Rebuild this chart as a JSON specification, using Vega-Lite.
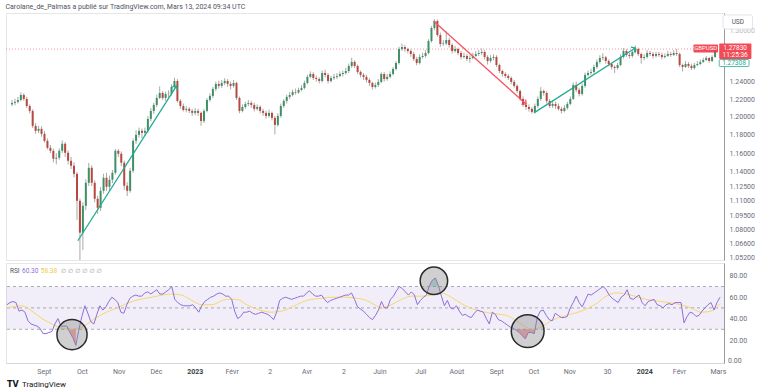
{
"$schema":"https://vega.github.io/schema/vega-lite/v6.json",
"background":"white",
"padding":{"left":4,"top":2,"right":0,"bottom":0},
"title":{"text":"Carolane_de_Palmas a publié sur TradingView.com, Mars 13, 2024 09:34 UTC","anchor":"start","fontSize":7,"font":"Roboto","fontWeight":"normal","color":"#50535E","offset":3,"dx":1},
"spacing":0,
"config":{"view":{"stroke":"#E6E6E6"},"axis":{"labelFont":"Roboto","labelFontSize":7,"labelColor":"#6A6D78","ticks":false,"grid":false,"title":null}},
"datasets":{
"px":[
{"i":0,"o":1.214,"h":1.219,"l":1.212,"c":1.2156,"r":53},
{"i":1,"o":1.2156,"h":1.2205,"l":1.213,"c":1.2168,"r":55},
{"i":2,"o":1.2168,"h":1.2225,"l":1.215,"c":1.219,"r":56},
{"i":3,"o":1.219,"h":1.2276,"l":1.2175,"c":1.2247,"r":55},
{"i":4,"o":1.2247,"h":1.2268,"l":1.218,"c":1.2202,"r":47},
{"i":5,"o":1.2202,"h":1.2225,"l":1.21,"c":1.2122,"r":48},
{"i":6,"o":1.2122,"h":1.214,"l":1.204,"c":1.2066,"r":46},
{"i":7,"o":1.2066,"h":1.2085,"l":1.1875,"c":1.1899,"r":38},
{"i":8,"o":1.1899,"h":1.193,"l":1.181,"c":1.1844,"r":35},
{"i":9,"o":1.1844,"h":1.19,"l":1.182,"c":1.1866,"r":34},
{"i":10,"o":1.1866,"h":1.1895,"l":1.178,"c":1.1811,"r":33},
{"i":11,"o":1.1811,"h":1.184,"l":1.1717,"c":1.1734,"r":31},
{"i":12,"o":1.1734,"h":1.176,"l":1.164,"c":1.1658,"r":26},
{"i":13,"o":1.1658,"h":1.169,"l":1.16,"c":1.1626,"r":26},
{"i":14,"o":1.1626,"h":1.165,"l":1.15,"c":1.154,"r":27},
{"i":15,"o":1.154,"h":1.16,"l":1.148,"c":1.1551,"r":28},
{"i":16,"o":1.1551,"h":1.165,"l":1.153,"c":1.1626,"r":35},
{"i":17,"o":1.1626,"h":1.1738,"l":1.16,"c":1.1702,"r":40},
{"i":18,"o":1.1702,"h":1.172,"l":1.156,"c":1.1604,"r":33},
{"i":19,"o":1.1604,"h":1.163,"l":1.148,"c":1.1518,"r":33},
{"i":20,"o":1.1518,"h":1.156,"l":1.143,"c":1.1465,"r":33},
{"i":21,"o":1.1465,"h":1.15,"l":1.134,"c":1.1379,"r":27},
{"i":22,"o":1.1379,"h":1.14,"l":1.09,"c":1.1096,"r":22},
{"i":23,"o":1.1096,"h":1.112,"l":1.035,"c":1.0771,"r":15},
{"i":24,"o":1.0771,"h":1.108,"l":1.06,"c":1.1044,"r":30},
{"i":25,"o":1.1044,"h":1.132,"l":1.1,"c":1.1284,"r":42},
{"i":26,"o":1.1284,"h":1.1495,"l":1.125,"c":1.1443,"r":52},
{"i":27,"o":1.1443,"h":1.147,"l":1.125,"c":1.1284,"r":45},
{"i":28,"o":1.1284,"h":1.131,"l":1.108,"c":1.1117,"r":37},
{"i":29,"o":1.1117,"h":1.115,"l":1.096,"c":1.1024,"r":35},
{"i":30,"o":1.1024,"h":1.124,"l":1.099,"c":1.12,"r":44},
{"i":31,"o":1.12,"h":1.138,"l":1.117,"c":1.1337,"r":52},
{"i":32,"o":1.1337,"h":1.139,"l":1.12,"c":1.1242,"r":48},
{"i":33,"o":1.1242,"h":1.136,"l":1.12,"c":1.1316,"r":51},
{"i":34,"o":1.1316,"h":1.142,"l":1.128,"c":1.139,"r":56},
{"i":35,"o":1.139,"h":1.1645,"l":1.137,"c":1.1626,"r":60},
{"i":36,"o":1.1626,"h":1.1645,"l":1.156,"c":1.1594,"r":58},
{"i":37,"o":1.1594,"h":1.162,"l":1.146,"c":1.1497,"r":55},
{"i":38,"o":1.1497,"h":1.152,"l":1.121,"c":1.1253,"r":46},
{"i":39,"o":1.1253,"h":1.129,"l":1.1145,"c":1.12,"r":45},
{"i":40,"o":1.12,"h":1.144,"l":1.118,"c":1.1411,"r":53},
{"i":41,"o":1.1411,"h":1.176,"l":1.139,"c":1.1734,"r":59},
{"i":42,"o":1.1734,"h":1.185,"l":1.17,"c":1.18,"r":61},
{"i":43,"o":1.18,"h":1.188,"l":1.177,"c":1.1844,"r":62},
{"i":44,"o":1.1844,"h":1.187,"l":1.176,"c":1.1822,"r":61},
{"i":45,"o":1.1822,"h":1.188,"l":1.179,"c":1.1844,"r":61},
{"i":46,"o":1.1844,"h":1.201,"l":1.182,"c":1.1977,"r":64},
{"i":47,"o":1.1977,"h":1.21,"l":1.195,"c":1.2066,"r":65},
{"i":48,"o":1.2066,"h":1.216,"l":1.203,"c":1.2134,"r":63},
{"i":49,"o":1.2134,"h":1.225,"l":1.211,"c":1.2213,"r":65},
{"i":50,"o":1.2213,"h":1.2345,"l":1.22,"c":1.227,"r":67},
{"i":51,"o":1.227,"h":1.229,"l":1.219,"c":1.2213,"r":63},
{"i":52,"o":1.2213,"h":1.2285,"l":1.218,"c":1.2259,"r":63},
{"i":53,"o":1.2259,"h":1.23,"l":1.222,"c":1.2262,"r":65},
{"i":54,"o":1.2262,"h":1.237,"l":1.224,"c":1.2339,"r":67},
{"i":55,"o":1.2339,"h":1.2446,"l":1.232,"c":1.2408,"r":70},
{"i":56,"o":1.2408,"h":1.243,"l":1.216,"c":1.2179,"r":58},
{"i":57,"o":1.2179,"h":1.22,"l":1.209,"c":1.2122,"r":55},
{"i":58,"o":1.2122,"h":1.215,"l":1.206,"c":1.2077,"r":53},
{"i":59,"o":1.2077,"h":1.212,"l":1.205,"c":1.2089,"r":52},
{"i":60,"o":1.2089,"h":1.211,"l":1.204,"c":1.2066,"r":52},
{"i":61,"o":1.2066,"h":1.209,"l":1.201,"c":1.2044,"r":52},
{"i":62,"o":1.2044,"h":1.21,"l":1.202,"c":1.2066,"r":53},
{"i":63,"o":1.2066,"h":1.209,"l":1.201,"c":1.2044,"r":50},
{"i":64,"o":1.2044,"h":1.206,"l":1.19,"c":1.1954,"r":46},
{"i":65,"o":1.1954,"h":1.209,"l":1.193,"c":1.2066,"r":52},
{"i":66,"o":1.2066,"h":1.221,"l":1.205,"c":1.219,"r":56},
{"i":67,"o":1.219,"h":1.2265,"l":1.217,"c":1.2236,"r":58},
{"i":68,"o":1.2236,"h":1.234,"l":1.221,"c":1.2316,"r":60},
{"i":69,"o":1.2316,"h":1.24,"l":1.229,"c":1.2374,"r":61},
{"i":70,"o":1.2374,"h":1.241,"l":1.232,"c":1.2351,"r":63},
{"i":71,"o":1.2351,"h":1.242,"l":1.233,"c":1.2385,"r":64},
{"i":72,"o":1.2385,"h":1.244,"l":1.236,"c":1.2408,"r":63},
{"i":73,"o":1.2408,"h":1.243,"l":1.234,"c":1.2374,"r":61},
{"i":74,"o":1.2374,"h":1.24,"l":1.231,"c":1.2351,"r":61},
{"i":75,"o":1.2351,"h":1.242,"l":1.233,"c":1.2385,"r":58},
{"i":76,"o":1.2385,"h":1.24,"l":1.219,"c":1.2213,"r":47},
{"i":77,"o":1.2213,"h":1.223,"l":1.204,"c":1.2066,"r":40},
{"i":78,"o":1.2066,"h":1.214,"l":1.205,"c":1.2111,"r":42},
{"i":79,"o":1.2111,"h":1.217,"l":1.209,"c":1.2145,"r":46},
{"i":80,"o":1.2145,"h":1.219,"l":1.212,"c":1.2156,"r":46},
{"i":81,"o":1.2156,"h":1.218,"l":1.21,"c":1.2134,"r":47},
{"i":82,"o":1.2134,"h":1.216,"l":1.206,"c":1.2089,"r":45},
{"i":83,"o":1.2089,"h":1.214,"l":1.207,"c":1.2111,"r":44},
{"i":84,"o":1.2111,"h":1.213,"l":1.204,"c":1.2066,"r":45},
{"i":85,"o":1.2066,"h":1.209,"l":1.201,"c":1.2044,"r":46},
{"i":86,"o":1.2044,"h":1.207,"l":1.198,"c":1.201,"r":45},
{"i":87,"o":1.201,"h":1.208,"l":1.199,"c":1.2044,"r":44},
{"i":88,"o":1.2044,"h":1.206,"l":1.196,"c":1.1988,"r":42},
{"i":89,"o":1.1988,"h":1.201,"l":1.1805,"c":1.191,"r":39},
{"i":90,"o":1.191,"h":1.204,"l":1.189,"c":1.201,"r":46},
{"i":91,"o":1.201,"h":1.215,"l":1.199,"c":1.2122,"r":57},
{"i":92,"o":1.2122,"h":1.22,"l":1.21,"c":1.2179,"r":59},
{"i":93,"o":1.2179,"h":1.225,"l":1.215,"c":1.2225,"r":60},
{"i":94,"o":1.2225,"h":1.228,"l":1.22,"c":1.2247,"r":59},
{"i":95,"o":1.2247,"h":1.231,"l":1.223,"c":1.2282,"r":58},
{"i":96,"o":1.2282,"h":1.232,"l":1.225,"c":1.2275,"r":59},
{"i":97,"o":1.2275,"h":1.233,"l":1.226,"c":1.2305,"r":60},
{"i":98,"o":1.2305,"h":1.236,"l":1.229,"c":1.2328,"r":61},
{"i":99,"o":1.2328,"h":1.241,"l":1.231,"c":1.2385,"r":61},
{"i":100,"o":1.2385,"h":1.248,"l":1.237,"c":1.2455,"r":64},
{"i":101,"o":1.2455,"h":1.252,"l":1.244,"c":1.2489,"r":66},
{"i":102,"o":1.2489,"h":1.251,"l":1.242,"c":1.2443,"r":63},
{"i":103,"o":1.2443,"h":1.247,"l":1.24,"c":1.2431,"r":61},
{"i":104,"o":1.2431,"h":1.245,"l":1.238,"c":1.2408,"r":61},
{"i":105,"o":1.2408,"h":1.253,"l":1.239,"c":1.2501,"r":62},
{"i":106,"o":1.2501,"h":1.254,"l":1.245,"c":1.2478,"r":58},
{"i":107,"o":1.2478,"h":1.25,"l":1.238,"c":1.2408,"r":55},
{"i":108,"o":1.2408,"h":1.247,"l":1.239,"c":1.2443,"r":57},
{"i":109,"o":1.2443,"h":1.249,"l":1.242,"c":1.2455,"r":58},
{"i":110,"o":1.2455,"h":1.25,"l":1.243,"c":1.2466,"r":59},
{"i":111,"o":1.2466,"h":1.252,"l":1.245,"c":1.2489,"r":60},
{"i":112,"o":1.2489,"h":1.253,"l":1.246,"c":1.2501,"r":61},
{"i":113,"o":1.2501,"h":1.256,"l":1.248,"c":1.2524,"r":62},
{"i":114,"o":1.2524,"h":1.261,"l":1.25,"c":1.2583,"r":62},
{"i":115,"o":1.2583,"h":1.268,"l":1.256,"c":1.263,"r":64},
{"i":116,"o":1.263,"h":1.265,"l":1.256,"c":1.2583,"r":58},
{"i":117,"o":1.2583,"h":1.26,"l":1.249,"c":1.2513,"r":51},
{"i":118,"o":1.2513,"h":1.253,"l":1.245,"c":1.2478,"r":49},
{"i":119,"o":1.2478,"h":1.25,"l":1.242,"c":1.2455,"r":47},
{"i":120,"o":1.2455,"h":1.248,"l":1.239,"c":1.242,"r":44},
{"i":121,"o":1.242,"h":1.244,"l":1.235,"c":1.2385,"r":41},
{"i":122,"o":1.2385,"h":1.24,"l":1.2308,"c":1.2339,"r":39},
{"i":123,"o":1.2339,"h":1.239,"l":1.232,"c":1.2362,"r":43},
{"i":124,"o":1.2362,"h":1.243,"l":1.234,"c":1.2397,"r":48},
{"i":125,"o":1.2397,"h":1.251,"l":1.238,"c":1.2489,"r":56},
{"i":126,"o":1.2489,"h":1.251,"l":1.24,"c":1.2431,"r":50},
{"i":127,"o":1.2431,"h":1.249,"l":1.241,"c":1.2455,"r":50},
{"i":128,"o":1.2455,"h":1.252,"l":1.244,"c":1.2489,"r":58},
{"i":129,"o":1.2489,"h":1.257,"l":1.247,"c":1.2548,"r":61},
{"i":130,"o":1.2548,"h":1.264,"l":1.253,"c":1.2618,"r":66},
{"i":131,"o":1.2618,"h":1.281,"l":1.26,"c":1.2784,"r":70},
{"i":132,"o":1.2784,"h":1.2848,"l":1.276,"c":1.2807,"r":68},
{"i":133,"o":1.2807,"h":1.283,"l":1.275,"c":1.2784,"r":65},
{"i":134,"o":1.2784,"h":1.28,"l":1.273,"c":1.276,"r":62},
{"i":135,"o":1.276,"h":1.278,"l":1.269,"c":1.2724,"r":65},
{"i":136,"o":1.2724,"h":1.275,"l":1.264,"c":1.2665,"r":62},
{"i":137,"o":1.2665,"h":1.269,"l":1.259,"c":1.2618,"r":53},
{"i":138,"o":1.2618,"h":1.272,"l":1.26,"c":1.2689,"r":57},
{"i":139,"o":1.2689,"h":1.274,"l":1.267,"c":1.2701,"r":60},
{"i":140,"o":1.2701,"h":1.277,"l":1.268,"c":1.2736,"r":62},
{"i":141,"o":1.2736,"h":1.29,"l":1.272,"c":1.2879,"r":71},
{"i":142,"o":1.2879,"h":1.306,"l":1.286,"c":1.3036,"r":76},
{"i":143,"o":1.3036,"h":1.3144,"l":1.301,"c":1.3122,"r":78},
{"i":144,"o":1.3122,"h":1.314,"l":1.293,"c":1.2951,"r":71},
{"i":145,"o":1.2951,"h":1.298,"l":1.281,"c":1.2843,"r":61},
{"i":146,"o":1.2843,"h":1.289,"l":1.282,"c":1.285,"r":52},
{"i":147,"o":1.285,"h":1.2995,"l":1.283,"c":1.2891,"r":57},
{"i":148,"o":1.2891,"h":1.292,"l":1.28,"c":1.2831,"r":50},
{"i":149,"o":1.2831,"h":1.285,"l":1.273,"c":1.276,"r":49},
{"i":150,"o":1.276,"h":1.282,"l":1.274,"c":1.2784,"r":52},
{"i":151,"o":1.2784,"h":1.28,"l":1.271,"c":1.2736,"r":47},
{"i":152,"o":1.2736,"h":1.276,"l":1.266,"c":1.2689,"r":43},
{"i":153,"o":1.2689,"h":1.274,"l":1.267,"c":1.2701,"r":44},
{"i":154,"o":1.2701,"h":1.272,"l":1.264,"c":1.2665,"r":42},
{"i":155,"o":1.2665,"h":1.271,"l":1.262,"c":1.2677,"r":41},
{"i":156,"o":1.2677,"h":1.274,"l":1.266,"c":1.2701,"r":45},
{"i":157,"o":1.2701,"h":1.276,"l":1.269,"c":1.2724,"r":48},
{"i":158,"o":1.2724,"h":1.277,"l":1.27,"c":1.2736,"r":47},
{"i":159,"o":1.2736,"h":1.279,"l":1.271,"c":1.2748,"r":46},
{"i":160,"o":1.2748,"h":1.277,"l":1.266,"c":1.2689,"r":40},
{"i":161,"o":1.2689,"h":1.271,"l":1.26,"c":1.2641,"r":35},
{"i":162,"o":1.2641,"h":1.271,"l":1.262,"c":1.2677,"r":46},
{"i":163,"o":1.2677,"h":1.272,"l":1.265,"c":1.2689,"r":44},
{"i":164,"o":1.2689,"h":1.271,"l":1.257,"c":1.2594,"r":39},
{"i":165,"o":1.2594,"h":1.261,"l":1.25,"c":1.2524,"r":38},
{"i":166,"o":1.2524,"h":1.254,"l":1.246,"c":1.2489,"r":36},
{"i":167,"o":1.2489,"h":1.251,"l":1.244,"c":1.2466,"r":34},
{"i":168,"o":1.2466,"h":1.249,"l":1.242,"c":1.2443,"r":32},
{"i":169,"o":1.2443,"h":1.246,"l":1.237,"c":1.2397,"r":31},
{"i":170,"o":1.2397,"h":1.242,"l":1.233,"c":1.2351,"r":29},
{"i":171,"o":1.2351,"h":1.237,"l":1.227,"c":1.2293,"r":27},
{"i":172,"o":1.2293,"h":1.231,"l":1.218,"c":1.2202,"r":24},
{"i":173,"o":1.2202,"h":1.223,"l":1.211,"c":1.2134,"r":21},
{"i":174,"o":1.2134,"h":1.216,"l":1.208,"c":1.2111,"r":27},
{"i":175,"o":1.2111,"h":1.214,"l":1.206,"c":1.2089,"r":27},
{"i":176,"o":1.2089,"h":1.211,"l":1.2037,"c":1.2055,"r":26},
{"i":177,"o":1.2055,"h":1.215,"l":1.204,"c":1.2122,"r":41},
{"i":178,"o":1.2122,"h":1.223,"l":1.21,"c":1.2202,"r":47},
{"i":179,"o":1.2202,"h":1.2337,"l":1.218,"c":1.2293,"r":48},
{"i":180,"o":1.2293,"h":1.231,"l":1.224,"c":1.227,"r":43},
{"i":181,"o":1.227,"h":1.229,"l":1.215,"c":1.2179,"r":39},
{"i":182,"o":1.2179,"h":1.22,"l":1.21,"c":1.2122,"r":38},
{"i":183,"o":1.2122,"h":1.218,"l":1.21,"c":1.2145,"r":45},
{"i":184,"o":1.2145,"h":1.217,"l":1.209,"c":1.2122,"r":43},
{"i":185,"o":1.2122,"h":1.215,"l":1.207,"c":1.2089,"r":41},
{"i":186,"o":1.2089,"h":1.211,"l":1.2037,"c":1.2066,"r":41},
{"i":187,"o":1.2066,"h":1.213,"l":1.205,"c":1.21,"r":42},
{"i":188,"o":1.21,"h":1.217,"l":1.208,"c":1.2145,"r":50},
{"i":189,"o":1.2145,"h":1.223,"l":1.213,"c":1.2202,"r":55},
{"i":190,"o":1.2202,"h":1.239,"l":1.219,"c":1.2362,"r":61},
{"i":191,"o":1.2362,"h":1.24,"l":1.228,"c":1.2305,"r":55},
{"i":192,"o":1.2305,"h":1.233,"l":1.223,"c":1.2259,"r":51},
{"i":193,"o":1.2259,"h":1.238,"l":1.224,"c":1.2351,"r":57},
{"i":194,"o":1.2351,"h":1.2505,"l":1.233,"c":1.2478,"r":63},
{"i":195,"o":1.2478,"h":1.253,"l":1.246,"c":1.2501,"r":62},
{"i":196,"o":1.2501,"h":1.255,"l":1.248,"c":1.2513,"r":64},
{"i":197,"o":1.2513,"h":1.26,"l":1.249,"c":1.2571,"r":66},
{"i":198,"o":1.2571,"h":1.266,"l":1.255,"c":1.263,"r":68},
{"i":199,"o":1.263,"h":1.271,"l":1.261,"c":1.2677,"r":70},
{"i":200,"o":1.2677,"h":1.2733,"l":1.265,"c":1.2685,"r":67},
{"i":201,"o":1.2685,"h":1.27,"l":1.261,"c":1.2641,"r":62},
{"i":202,"o":1.2641,"h":1.266,"l":1.258,"c":1.2606,"r":59},
{"i":203,"o":1.2606,"h":1.262,"l":1.254,"c":1.2571,"r":57},
{"i":204,"o":1.2571,"h":1.259,"l":1.25,"c":1.2559,"r":55},
{"i":205,"o":1.2559,"h":1.262,"l":1.254,"c":1.2594,"r":60},
{"i":206,"o":1.2594,"h":1.272,"l":1.258,"c":1.2689,"r":62},
{"i":207,"o":1.2689,"h":1.2793,"l":1.267,"c":1.276,"r":67},
{"i":208,"o":1.276,"h":1.278,"l":1.269,"c":1.2713,"r":59},
{"i":209,"o":1.2713,"h":1.274,"l":1.267,"c":1.2701,"r":58},
{"i":210,"o":1.2701,"h":1.277,"l":1.268,"c":1.2748,"r":60},
{"i":211,"o":1.2748,"h":1.2827,"l":1.273,"c":1.2784,"r":62},
{"i":212,"o":1.2784,"h":1.28,"l":1.27,"c":1.2724,"r":55},
{"i":213,"o":1.2724,"h":1.274,"l":1.261,"c":1.2677,"r":52},
{"i":214,"o":1.2677,"h":1.272,"l":1.265,"c":1.2689,"r":56},
{"i":215,"o":1.2689,"h":1.277,"l":1.267,"c":1.2736,"r":57},
{"i":216,"o":1.2736,"h":1.276,"l":1.27,"c":1.2724,"r":58},
{"i":217,"o":1.2724,"h":1.275,"l":1.267,"c":1.2701,"r":53},
{"i":218,"o":1.2701,"h":1.275,"l":1.268,"c":1.2724,"r":52},
{"i":219,"o":1.2724,"h":1.275,"l":1.269,"c":1.2713,"r":50},
{"i":220,"o":1.2713,"h":1.274,"l":1.266,"c":1.2689,"r":53},
{"i":221,"o":1.2689,"h":1.273,"l":1.267,"c":1.2701,"r":54},
{"i":222,"o":1.2701,"h":1.276,"l":1.269,"c":1.2724,"r":53},
{"i":223,"o":1.2724,"h":1.275,"l":1.269,"c":1.2713,"r":55},
{"i":224,"o":1.2713,"h":1.277,"l":1.27,"c":1.2736,"r":55},
{"i":225,"o":1.2736,"h":1.2785,"l":1.27,"c":1.2724,"r":55},
{"i":226,"o":1.2724,"h":1.274,"l":1.257,"c":1.2594,"r":36},
{"i":227,"o":1.2594,"h":1.261,"l":1.2518,"c":1.2571,"r":42},
{"i":228,"o":1.2571,"h":1.264,"l":1.256,"c":1.2606,"r":46},
{"i":229,"o":1.2606,"h":1.263,"l":1.256,"c":1.2583,"r":45},
{"i":230,"o":1.2583,"h":1.261,"l":1.2535,"c":1.2559,"r":42},
{"i":231,"o":1.2559,"h":1.262,"l":1.254,"c":1.2594,"r":43},
{"i":232,"o":1.2594,"h":1.264,"l":1.258,"c":1.2606,"r":47},
{"i":233,"o":1.2606,"h":1.266,"l":1.259,"c":1.263,"r":50},
{"i":234,"o":1.263,"h":1.268,"l":1.262,"c":1.2653,"r":53},
{"i":235,"o":1.2653,"h":1.27,"l":1.264,"c":1.2677,"r":55},
{"i":236,"o":1.2677,"h":1.269,"l":1.262,"c":1.2641,"r":48},
{"i":237,"o":1.2641,"h":1.271,"l":1.263,"c":1.2689,"r":55},
{"i":238,"o":1.2689,"h":1.28,"l":1.268,"c":1.2783,"r":60}
],
"ma":[
{"i":0,"m":50},{"i":5,"m":52},{"i":8.3,"m":47},{"i":11.7,"m":40},{"i":15,"m":35},{"i":18.3,"m":31},{"i":21.7,"m":30},{"i":25,"m":32},{"i":28.3,"m":38},{"i":31.7,"m":44},{"i":36.7,"m":50},{"i":41.7,"m":56},{"i":48.3,"m":60},{"i":55,"m":63},{"i":58.3,"m":62},{"i":61.7,"m":57},{"i":65,"m":53},{"i":68.3,"m":53},{"i":73.3,"m":58},{"i":76.7,"m":58},{"i":80,"m":53},{"i":83.3,"m":49},{"i":88.3,"m":46},{"i":91.7,"m":47},{"i":96.7,"m":53},{"i":100,"m":57},{"i":105,"m":59},{"i":108.3,"m":60},{"i":113.3,"m":60},{"i":116.7,"m":59},{"i":120,"m":57},{"i":123.3,"m":52},{"i":125,"m":50},{"i":128.3,"m":53},{"i":131.7,"m":58},{"i":135,"m":61},{"i":138.3,"m":61},{"i":141.7,"m":62},{"i":145,"m":64},{"i":148.3,"m":60},{"i":151.7,"m":54},{"i":156.7,"m":48},{"i":161.7,"m":45},{"i":166.7,"m":43},{"i":170,"m":38},{"i":173.3,"m":32},{"i":175,"m":30},{"i":178.3,"m":32},{"i":181.7,"m":38},{"i":186.7,"m":43},{"i":191.7,"m":47},{"i":196.7,"m":54},{"i":200,"m":61},{"i":203.3,"m":64},{"i":208.3,"m":62},{"i":213.3,"m":58},{"i":218.3,"m":56},{"i":223.3,"m":54},{"i":228.3,"m":50},{"i":231.7,"m":46},{"i":235,"m":47},{"i":238,"m":54}
],
"arrows":[
{"a":"A1","i":22.3,"p":1.069},{"a":"A1","i":55.7,"p":1.2351},
{"a":"A2","i":142.7,"p":1.3122},{"a":"A2","i":174,"p":1.2145},
{"a":"A3","i":176.7,"p":1.2044},{"a":"A3","i":211,"p":1.2795}
]
},
"vconcat":[
{
"width":718,"height":247,
"resolve":{"axis":{"x":"independent","y":"independent"}},
"layer":[
{"data":{"values":[{"p":1.2783}]},"mark":{"type":"rule","stroke":"#F23645","strokeDash":[1,2],"strokeOpacity":0.55,"strokeWidth":1},
 "encoding":{"y":{"field":"p","type":"quantitative","scale":{"type":"log","domain":[1.05,1.322],"nice":false},
  "axis":{"orient":"right","values":[1.052,1.066,1.08,1.095,1.11,1.125,1.14,1.16,1.18,1.2,1.22,1.24,1.3],"format":".5f","domain":true,"domainColor":"#9A9A9A","labelPadding":5,"labelOverlap":false,"labelColor":{"condition":{"test":"datum.value >= 1.29","value":"#B8BAC2"},"value":"#6A6D78"}}}}},
{"data":{"name":"px"},"mark":{"type":"rule","stroke":"#A9A9A9","strokeWidth":1,"clip":true},
 "encoding":{"x":{"field":"i","type":"quantitative","scale":{"domain":[-0.3333,239.3333],"nice":false,"zero":false},"axis":null},
  "y":{"field":"l","type":"quantitative","scale":{"type":"log","domain":[1.05,1.322],"nice":false},"axis":null},"y2":{"field":"h"}}},
{"data":{"name":"px"},"mark":{"type":"bar","size":2,"clip":true},
 "encoding":{"x":{"field":"i","type":"quantitative","scale":{"domain":[-0.3333,239.3333],"nice":false,"zero":false},"axis":null},
  "y":{"field":"o","type":"quantitative","scale":{"type":"log","domain":[1.05,1.322],"nice":false},"axis":null},"y2":{"field":"c"},
  "color":{"condition":{"test":"datum.c >= datum.o","value":"#3E9067"},"value":"#B8473D"}}},
{"data":{"name":"arrows"},"mark":{"type":"line","strokeWidth":1.3},
 "encoding":{"x":{"field":"i","type":"quantitative","scale":{"domain":[-0.3333,239.3333],"nice":false,"zero":false},"axis":null},
  "y":{"field":"p","type":"quantitative","scale":{"type":"log","domain":[1.05,1.322],"nice":false},"axis":null},
  "detail":{"field":"a"},
  "color":{"field":"a","type":"nominal","scale":{"domain":["A1","A2","A3"],"range":["#22AB94","#F7525F","#22AB94"]},"legend":null}}},
{"data":{"values":[{"i":55.7,"p":1.2351}]},"mark":{"type":"point","shape":"M-1,-1L0,0L-1,1","filled":false,"size":40,"angle":-57,"stroke":"#22AB94","strokeWidth":1.3,"opacity":1},
 "encoding":{"x":{"field":"i","type":"quantitative","axis":null},"y":{"field":"p","type":"quantitative","axis":null}}},
{"data":{"values":[{"i":174,"p":1.2145}]},"mark":{"type":"point","shape":"M-1,-1L0,0L-1,1","filled":false,"size":40,"angle":41,"stroke":"#F7525F","strokeWidth":1.3,"opacity":1},
 "encoding":{"x":{"field":"i","type":"quantitative","axis":null},"y":{"field":"p","type":"quantitative","axis":null}}},
{"data":{"values":[{"i":211,"p":1.2795}]},"mark":{"type":"point","shape":"M-1,-1L0,0L-1,1","filled":false,"size":40,"angle":-32,"stroke":"#22AB94","strokeWidth":1.3,"opacity":1},
 "encoding":{"x":{"field":"i","type":"quantitative","axis":null},"y":{"field":"p","type":"quantitative","axis":null}}},
{"data":{"values":[{}]},"mark":{"type":"rect","fill":"#F23645","opacity":0.9,"cornerRadius":1},
 "encoding":{"x":{"datum":230.7,"type":"quantitative","axis":null},"x2":{"datum":239},"y":{"datum":1.2837,"type":"quantitative","axis":null},"y2":{"datum":1.2742}}},
{"data":{"values":[{}]},"mark":{"type":"text","text":"GBPUSD","font":"Roboto","fontSize":6,"color":"white","align":"center","baseline":"middle"},
 "encoding":{"x":{"datum":234.85,"type":"quantitative","axis":null},"y":{"datum":1.279,"type":"quantitative","axis":null}}},
{"data":{"values":[{}]},"mark":{"type":"rect","fill":"#F23645","opacity":0.9,"cornerRadius":1},
 "encoding":{"x":{"datum":239.4,"type":"quantitative","axis":null},"x2":{"datum":250.3},"y":{"datum":1.2849,"type":"quantitative","axis":null},"y2":{"datum":1.2665}}},
{"data":{"values":[{}]},"mark":{"type":"text","text":"1.27830","font":"Roboto","fontSize":6.5,"color":"white","align":"center","baseline":"middle"},
 "encoding":{"x":{"datum":244.8,"type":"quantitative","axis":null},"y":{"datum":1.2795,"type":"quantitative","axis":null}}},
{"data":{"values":[{}]},"mark":{"type":"text","text":"11:25:36","font":"Roboto","fontSize":6.5,"color":"white","align":"center","baseline":"middle"},
 "encoding":{"x":{"datum":244.8,"type":"quantitative","axis":null},"y":{"datum":1.2713,"type":"quantitative","axis":null}}},
{"data":{"values":[{}]},"mark":{"type":"rect","fill":"white","stroke":"#22AB94","strokeWidth":0.8,"cornerRadius":1},
 "encoding":{"x":{"datum":239.4,"type":"quantitative","axis":null},"x2":{"datum":249.5},"y":{"datum":1.2659,"type":"quantitative","axis":null},"y2":{"datum":1.2576}}},
{"data":{"values":[{}]},"mark":{"type":"text","text":"1.27308","font":"Roboto","fontSize":6.5,"color":"#22AB94","align":"center","baseline":"middle"},
 "encoding":{"x":{"datum":244.4,"type":"quantitative","axis":null},"y":{"datum":1.2618,"type":"quantitative","axis":null}}},
{"data":{"values":[{}]},"mark":{"type":"rect","fill":"white","stroke":"#E0E3EB","strokeWidth":1,"cornerRadius":2},
 "encoding":{"x":{"datum":240.7,"type":"quantitative","axis":null},"x2":{"datum":250.7},"y":{"datum":1.3196,"type":"quantitative","axis":null},"y2":{"datum":1.3024}}},
{"data":{"values":[{}]},"mark":{"type":"text","text":"USD","font":"Roboto","fontSize":6.5,"color":"#50535E","align":"center","baseline":"middle"},
 "encoding":{"x":{"datum":245.7,"type":"quantitative","axis":null},"y":{"datum":1.311,"type":"quantitative","axis":null}}}
]
},
{
"width":718,"height":100,
"resolve":{"axis":{"x":"independent","y":"independent"}},
"layer":[
{"data":{"values":[{}]},"mark":{"type":"rect","fill":"#7E57C2","opacity":0.1},
 "encoding":{"y":{"datum":30,"type":"quantitative","scale":{"domain":[-1.5,92],"nice":false,"zero":false},"axis":null},"y2":{"datum":70}}},
{"data":{"values":[{"v":30},{"v":50},{"v":70}]},"mark":{"type":"rule","stroke":"#9598A1","strokeDash":[3,3],"strokeWidth":1,"strokeOpacity":0.8},
 "encoding":{"y":{"field":"v","type":"quantitative","scale":{"domain":[-1.5,92],"nice":false,"zero":false},"axis":null}}},
{"data":{"name":"px"},"transform":[{"filter":"datum.r < 30 && datum.i >= 17 && datum.i <= 30"}],"mark":{"type":"area","color":"#F23645","opacity":0.45},
 "encoding":{"x":{"field":"i","type":"quantitative","scale":{"domain":[-0.3333,239.3333],"nice":false,"zero":false},"axis":null},
  "y":{"field":"r","type":"quantitative","scale":{"domain":[-1.5,92],"nice":false,"zero":false},"axis":null},"y2":{"datum":30}}},
{"data":{"name":"px"},"transform":[{"filter":"datum.r < 30 && datum.i >= 160 && datum.i <= 180"}],"mark":{"type":"area","color":"#F23645","opacity":0.45},
 "encoding":{"x":{"field":"i","type":"quantitative","scale":{"domain":[-0.3333,239.3333],"nice":false,"zero":false},"axis":null},
  "y":{"field":"r","type":"quantitative","scale":{"domain":[-1.5,92],"nice":false,"zero":false},"axis":null},"y2":{"datum":30}}},
{"data":{"name":"px"},"transform":[{"filter":"datum.r > 70"}],"mark":{"type":"area","color":"#22AB94","opacity":0.35},
 "encoding":{"x":{"field":"i","type":"quantitative","scale":{"domain":[-0.3333,239.3333],"nice":false,"zero":false},"axis":null},
  "y":{"field":"r","type":"quantitative","scale":{"domain":[-1.5,92],"nice":false,"zero":false},"axis":null},"y2":{"datum":70}}},
{"data":{"name":"ma"},"mark":{"type":"line","stroke":"#F5D76E","strokeWidth":1,"interpolate":"monotone"},
 "encoding":{"x":{"field":"i","type":"quantitative","scale":{"domain":[-0.3333,239.3333],"nice":false,"zero":false},"axis":null},
  "y":{"field":"m","type":"quantitative","scale":{"domain":[-1.5,92],"nice":false,"zero":false},"axis":null}}},
{"data":{"name":"px"},"mark":{"type":"line","stroke":"#8E6FD6","strokeWidth":1},
 "encoding":{"x":{"field":"i","type":"quantitative","scale":{"domain":[-0.3333,239.3333],"nice":false,"zero":false},
   "axis":{"orient":"bottom","values":[12.3,25,37.3,49.7,62.7,75,87.7,100,112.3,124.3,138,150,163.3,175.7,187.7,200.3,212.7,224.3,237.3],
    "labelExpr":"['Sept','Oct','Nov','Déc','2023','Févr','2','Avr','2','Juin','Juil','Août','Sept','Oct','Nov','30','2024','Févr','Mars'][indexof([12.3,25,37.3,49.7,62.7,75,87.7,100,112.3,124.3,138,150,163.3,175.7,187.7,200.3,212.7,224.3,237.3], datum.value)]",
    "labelOverlap":false,"labelFlush":false,"labelPadding":4,"domain":true,"domainColor":"#D6D6D6",
    "labelFontWeight":{"condition":{"test":"datum.value == 62.7 || datum.value == 212.7","value":"bold"},"value":"normal"},
    "labelColor":{"condition":{"test":"datum.value == 62.7 || datum.value == 212.7","value":"#3B3E48"},"value":"#6A6D78"}}},
  "y":{"field":"r","type":"quantitative","scale":{"domain":[-1.5,92],"nice":false,"zero":false},
   "axis":{"orient":"right","values":[20,40,60,80],"format":".2f","domain":true,"domainColor":"#9A9A9A","labelPadding":5,"labelOverlap":false}}}},
{"data":{"values":[{}]},"mark":{"type":"text","text":"0.00","font":"Roboto","fontSize":7,"color":"#6A6D78","align":"left","baseline":"middle"},
 "encoding":{"x":{"datum":240.67,"type":"quantitative","axis":null},"y":{"datum":0,"type":"quantitative","axis":null}}},
{"data":{"values":[{"i":21.7,"v":25}]},"mark":{"type":"point","shape":"circle","filled":true,"size":908,"fill":"#8A8A8A","fillOpacity":0.4,"stroke":"#2B2B2B","strokeWidth":1.5,"strokeOpacity":1},
 "encoding":{"x":{"field":"i","type":"quantitative","axis":null},"y":{"field":"v","type":"quantitative","axis":null}}},
{"data":{"values":[{"i":142.5,"v":75.3}]},"mark":{"type":"point","shape":"circle","filled":true,"size":755,"fill":"#8A8A8A","fillOpacity":0.4,"stroke":"#2B2B2B","strokeWidth":1.5,"strokeOpacity":1},
 "encoding":{"x":{"field":"i","type":"quantitative","axis":null},"y":{"field":"v","type":"quantitative","axis":null}}},
{"data":{"values":[{"i":173.8,"v":28.3}]},"mark":{"type":"point","shape":"circle","filled":true,"size":1075,"fill":"#8A8A8A","fillOpacity":0.4,"stroke":"#2B2B2B","strokeWidth":1.5,"strokeOpacity":1},
 "encoding":{"x":{"field":"i","type":"quantitative","axis":null},"y":{"field":"v","type":"quantitative","axis":null}}},
{"data":{"values":[{}]},"mark":{"type":"text","text":"RSI","font":"Roboto","fontSize":6.5,"color":"#50535E","align":"left","baseline":"middle"},
 "encoding":{"x":{"datum":1,"type":"quantitative","axis":null},"y":{"datum":84.6,"type":"quantitative","axis":null}}},
{"data":{"values":[{}]},"mark":{"type":"text","text":"60.30","font":"Roboto","fontSize":6.5,"color":"#8E6FD6","align":"left","baseline":"middle"},
 "encoding":{"x":{"datum":5,"type":"quantitative","axis":null},"y":{"datum":84.6,"type":"quantitative","axis":null}}},
{"data":{"values":[{}]},"mark":{"type":"text","text":"58.38","font":"Roboto","fontSize":6.5,"color":"#EFC94C","align":"left","baseline":"middle"},
 "encoding":{"x":{"datum":11.3,"type":"quantitative","axis":null},"y":{"datum":84.6,"type":"quantitative","axis":null}}},
{"data":{"values":[{}]},"mark":{"type":"text","text":"∅  ∅  ∅  ∅  ∅  ∅","font":"DejaVu Sans","fontSize":6,"color":"#9598A1","align":"left","baseline":"middle"},
 "encoding":{"x":{"datum":18,"type":"quantitative","axis":null},"y":{"datum":84.6,"type":"quantitative","axis":null}}},
{"data":{"values":[{}]},"mark":{"type":"text","text":"TV","font":"DejaVu Sans","fontSize":8,"fontWeight":"bold","color":"#131722","align":"left","baseline":"middle"},
 "encoding":{"x":{"datum":0,"type":"quantitative","axis":null},"y":{"datum":-22.4,"type":"quantitative","axis":null}}},
{"data":{"values":[{}]},"mark":{"type":"text","text":"TradingView","font":"Roboto","fontSize":8,"color":"#131722","align":"left","baseline":"middle"},
 "encoding":{"x":{"datum":5,"type":"quantitative","axis":null},"y":{"datum":-22.4,"type":"quantitative","axis":null}}}
]
}
]
}
